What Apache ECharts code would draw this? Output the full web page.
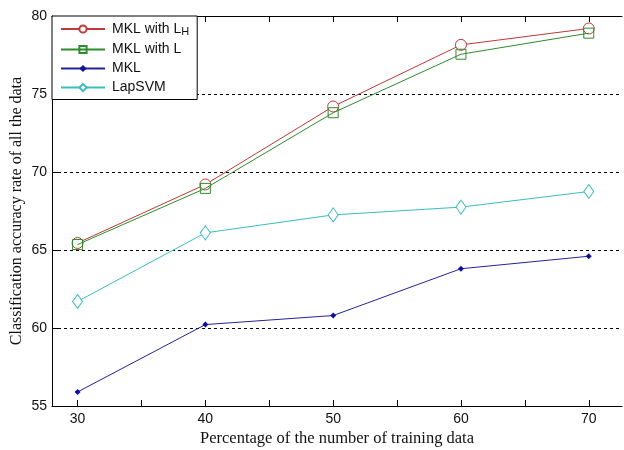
<!DOCTYPE html>
<html><head><meta charset="utf-8">
<script src="https://cdn.jsdelivr.net/npm/echarts@6/dist/echarts.min.js"></script>
<style>html,body{margin:0;padding:0;background:#fff}#c{width:624px;height:450px}</style>
</head><body><div id="c"></div>
<script>
const xValues = [30, 40, 50, 60, 70];
const xTicks = [30, 35, 40, 45, 50, 55, 60, 65, 70];
const xLabels = [30, 40, 50, 60, 70];
const mklLH = [65.45, 69.2, 74.2, 78.15, 79.2];
const mklL = [65.35, 68.95, 73.8, 77.55, 78.9];
const mkl = [55.9, 60.22, 60.8, 63.8, 64.6];
const lapSVM = [61.7, 66.1, 67.25, 67.75, 68.75];
const names = ['MKL with LH', 'MKL with L', 'MKL', 'LapSVM'];

const pairs = a => xValues.map((x, i) => [x, a[i]]);
const chart = echarts.init(document.getElementById('c'));
const axisCommon = {
  type: 'value', min: 28, max: 72.6,
  axisLine: { show: true, lineStyle: { color: '#000', width: 1 } },
  axisTick: { show: true, inside: true, length: 6, customValues: xTicks, lineStyle: { color: '#000' } },
  splitLine: { show: false }
};
chart.setOption({
  animation: false,
  backgroundColor: '#fff',
  grid: { left: 52, top: 16, right: 2, bottom: 44, containLabel: false, outerBoundsMode: 'none' },
  xAxis: [
    Object.assign({}, axisCommon, {
      position: 'bottom',
      name: 'Percentage of the number of training data',
      nameLocation: 'middle', nameGap: 24, nameMoveOverlap: false,
      nameTextStyle: { fontFamily: 'Liberation Serif', fontSize: 16.5, color: '#111' },
      axisLabel: { customValues: xLabels, margin: 6, fontFamily: 'Liberation Sans', fontSize: 14, color: '#111' }
    }),
    Object.assign({}, axisCommon, { position: 'top', axisLabel: { show: false } })
  ],
  yAxis: {
    type: 'value', min: 55, max: 80, interval: 5,
    name: 'Classification accuracy rate of all the data',
    nameLocation: 'middle', nameGap: 27, nameMoveOverlap: false,
    nameTextStyle: { fontFamily: 'Liberation Serif', fontSize: 16, color: '#111' },
    axisLine: { show: true, lineStyle: { color: '#000' } },
    axisTick: { show: true, inside: true, length: 6, lineStyle: { color: '#000' } },
    axisLabel: { margin: 5, fontFamily: 'Liberation Sans', fontSize: 14, color: '#111' },
    splitLine: { show: true, lineStyle: { color: '#000', type: [3, 3], width: 1 } }
  },
  legend: {
    orient: 'vertical', left: 52, top: 16,
    backgroundColor: '#fff', borderColor: '#000', borderWidth: 1, borderRadius: 0,
    padding: [6, 8, 5, 8], itemWidth: 44, itemHeight: 9, itemGap: 5,
    data: names,
    formatter: n => n === 'MKL with LH' ? '{a|MKL with L}{s|H}' : '{a|' + n + '}',
    textStyle: {
      rich: {
        a: { fontFamily: 'Liberation Sans', fontSize: 14, color: '#111', lineHeight: 16, padding: [0, 0, 0, 2] },
        s: { fontFamily: 'Liberation Sans', fontSize: 11, color: '#111', verticalAlign: 'bottom', padding: [6, 0, 0, 0] }
      }
    }
  },
  series: [
    { name: names[0], type: 'line', data: pairs(mklLH), symbol: 'circle', symbolSize: 11,
      lineStyle: { color: '#c03838', width: 1 }, itemStyle: { color: '#fff', borderColor: '#c03838', borderWidth: 1 }, z: 4 },
    { name: names[1], type: 'line', data: pairs(mklL), symbol: 'rect', symbolSize: 10,
      lineStyle: { color: '#2e8b2e', width: 1 }, itemStyle: { color: 'rgba(0,0,0,0)', borderColor: '#2e8b2e', borderWidth: 1 }, z: 5 },
    { name: names[2], type: 'line', data: pairs(mkl), symbol: 'diamond', symbolSize: 6,
      lineStyle: { color: '#23239a', width: 1 }, itemStyle: { color: '#1010a0', borderColor: '#1010a0', borderWidth: 0 }, z: 3 },
    { name: names[3], type: 'line', data: pairs(lapSVM), symbol: 'diamond', symbolSize: [10, 14],
      lineStyle: { color: '#3cbcbc', width: 1 }, itemStyle: { color: '#fff', borderColor: '#3cbcbc', borderWidth: 1 }, z: 3 }
  ]
});
</script></body></html>
